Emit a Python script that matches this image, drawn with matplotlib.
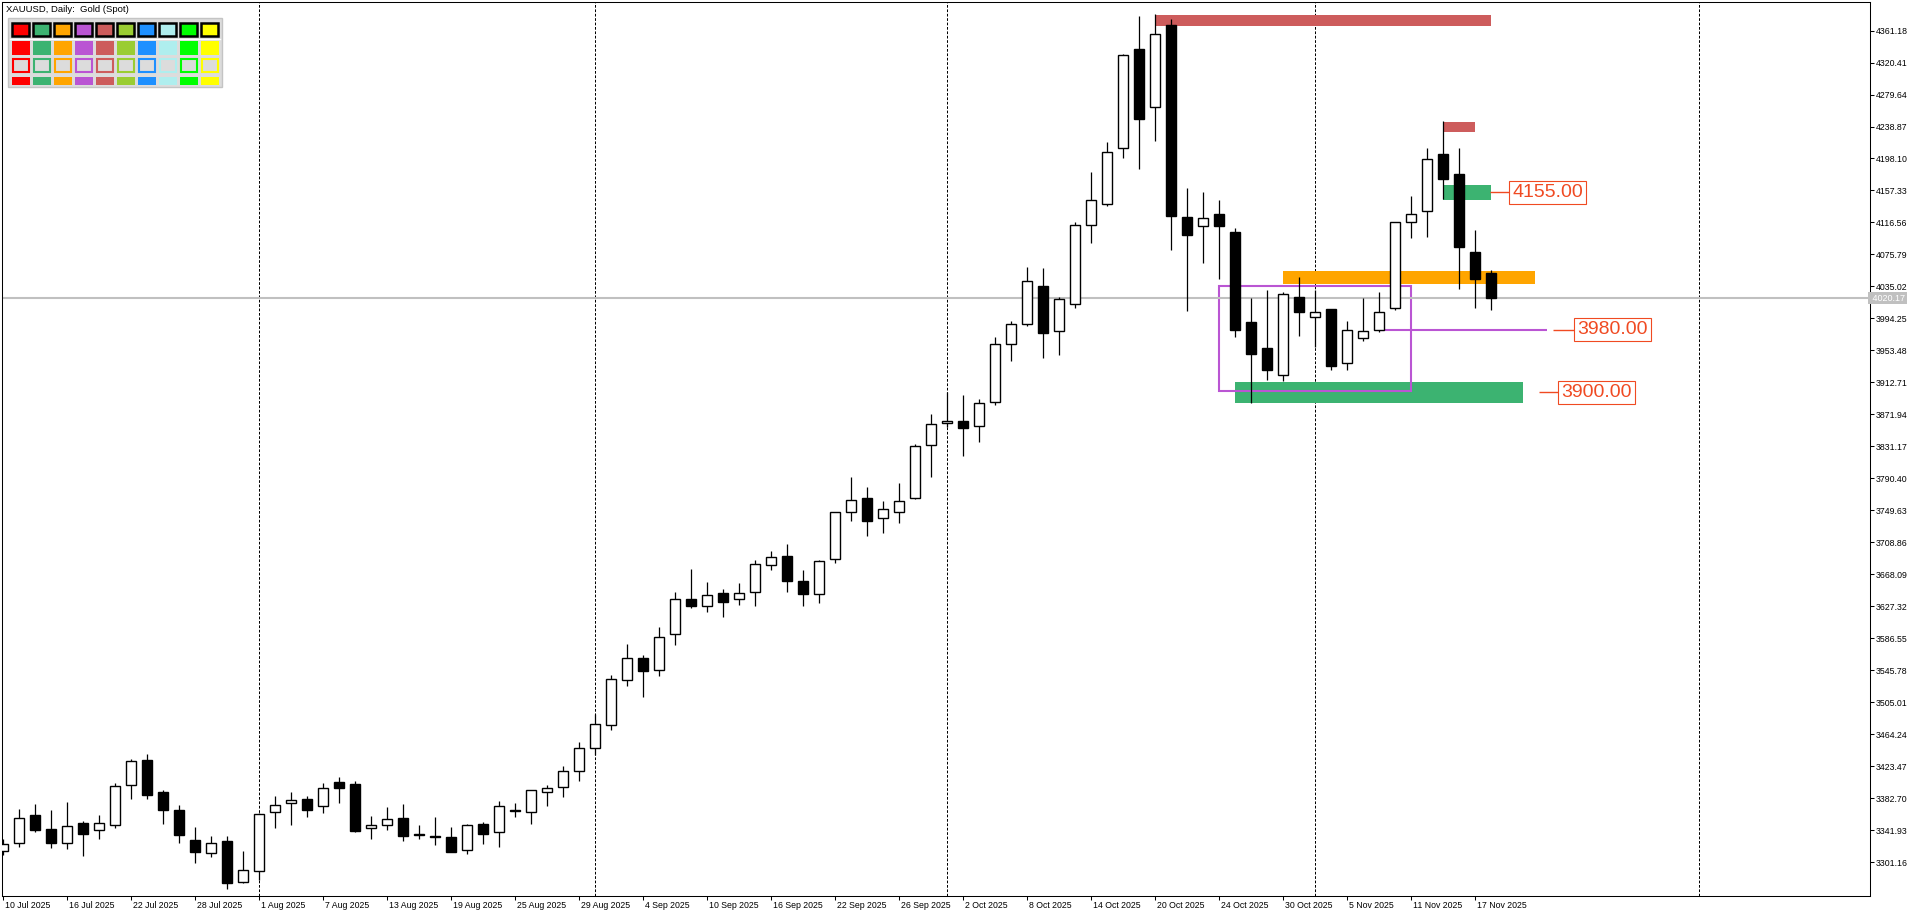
# -*- coding: utf-8 -*-
import numpy as np
import matplotlib
matplotlib.use('Agg')
import matplotlib.pyplot as plt
from matplotlib.patches import Rectangle
from matplotlib.transforms import ScaledTranslation

plt.rcParams['font.family'] = ['Liberation Sans', 'DejaVu Sans']

# XAUUSD daily bars, 10 Jul 2025 .. 18 Nov 2025 (one value per trading day)
opens = [3315, 3325, 3361, 3343, 3326, 3351, 3342, 3348, 3399, 3431,
         3390, 3368, 3329, 3313, 3328, 3276, 3290, 3365, 3376, 3381,
         3372, 3403, 3401, 3344, 3349, 3357, 3336.5, 3334, 3333, 3316,
         3350, 3340, 3368, 3365, 3390, 3397, 3417, 3446, 3476, 3533,
         3561, 3546, 3592, 3636, 3627, 3644, 3636, 3645, 3680, 3691,
         3659, 3643, 3688, 3747, 3765, 3740, 3747, 3765, 3833, 3861,
         3864, 3857, 3888, 3961, 3987, 4036, 3978, 4012, 4113, 4140,
         4212, 4338, 4264, 4368, 4123, 4112, 4127, 4105, 3990, 3956,
         3922, 4021, 3996, 4006, 3938, 3969, 3979, 4007, 4117, 4131,
         4204, 4178, 4079, 4052]
highs = [3330, 3369, 3375, 3367, 3378, 3353, 3361, 3402, 3433, 3439,
         3393, 3374, 3346, 3334, 3334, 3315, 3364, 3385, 3390, 3385,
         3402, 3410, 3404, 3360, 3371, 3375, 3348, 3359, 3346, 3350,
         3352, 3379, 3376, 3393, 3399, 3423, 3454, 3490, 3540, 3579,
         3565, 3601, 3646, 3675, 3658, 3649, 3657, 3686, 3698, 3707,
         3673, 3686, 3748, 3792, 3779, 3761, 3784, 3834, 3872, 3900,
         3897, 3892, 3970, 3991, 4060, 4058, 4022, 4117, 4181, 4219,
         4331, 4380, 4382, 4376, 4161, 4155, 4145, 4109, 4020, 4031,
         4028, 4047, 4031, 4006, 3991, 4020, 4028, 4117, 4150, 4212,
         4246, 4212, 4107, 4056]
lows = [3310, 3321, 3340, 3319, 3318, 3309, 3331, 3344, 3382, 3381,
        3350, 3325, 3300, 3307, 3267, 3275, 3278, 3344, 3349, 3358,
        3364, 3376, 3340, 3330, 3342, 3328, 3331, 3323, 3314, 3311,
        3324, 3321, 3359, 3350, 3373, 3384, 3404, 3438, 3470, 3526,
        3511, 3539, 3578, 3625, 3620, 3613, 3629, 3627, 3674, 3646,
        3628, 3632, 3683, 3736, 3717, 3721, 3734, 3764, 3792, 3856,
        3819, 3837, 3884, 3940, 3985, 3944, 3947, 4008, 4091, 4138,
        4199, 4185, 4220, 4081, 4004, 4065, 4044, 3971, 3886, 3916,
        3915, 3972, 3958, 3929, 3929, 3965, 3977, 4005, 4097, 4098,
        4146, 4032, 4007, 4005]
closes = [3324, 3357, 3342, 3325, 3347, 3337, 3351, 3398, 3430, 3387,
          3367, 3336, 3314, 3325, 3275, 3291, 3363, 3374, 3380, 3368,
          3395, 3396, 3341, 3348, 3356, 3334, 3335.5, 3333, 3314, 3348,
          3337, 3372, 3366, 3393, 3396, 3417, 3447, 3477, 3534, 3561,
          3545, 3588, 3637, 3627, 3641, 3633, 3644, 3681, 3690, 3659,
          3643, 3685, 3747, 3763, 3736, 3751, 3761, 3832, 3859, 3864,
          3855, 3887, 3961, 3987, 4042, 3976, 4019, 4113, 4145, 4207,
          4330, 4248, 4357, 4125, 4100, 4122, 4112, 3980, 3949, 3929,
          4025, 4003, 4002, 3933, 3979, 3978, 4002, 4117, 4127, 4197,
          4172, 4085, 4045, 4020.17]

x_labels = ['10 Jul 2025', '16 Jul 2025', '22 Jul 2025', '28 Jul 2025',
            '1 Aug 2025', '7 Aug 2025', '13 Aug 2025', '19 Aug 2025',
            '25 Aug 2025', '29 Aug 2025', '4 Sep 2025', '10 Sep 2025',
            '16 Sep 2025', '22 Sep 2025', '26 Sep 2025', '2 Oct 2025',
            '8 Oct 2025', '14 Oct 2025', '20 Oct 2025', '24 Oct 2025',
            '30 Oct 2025', '5 Nov 2025', '11 Nov 2025', '17 Nov 2025']
y_labels = ['4361.18', '4320.41', '4279.64', '4238.87', '4198.10', '4157.33',
            '4116.56', '4075.79', '4035.02', '3994.25', '3953.48', '3912.71',
            '3871.94', '3831.17', '3790.40', '3749.63', '3708.86', '3668.09',
            '3627.32', '3586.55', '3545.78', '3505.01', '3464.24', '3423.47',
            '3382.70', '3341.93', '3301.16']
month_starts = [16, 37, 59, 82, 106]
last_price = 4020.17

# supply / demand zones
zone_start = [72, 90, 90, 80, 77]
zone_end = [93, 92, 93, 95.75, 95]
zone_top = [4381, 4245, 4164, 4055, 3913]
zone_bottom = [4367.5, 4232, 4145, 4038.5, 3887]
zone_color = ['#CD5C5C', '#CD5C5C', '#3CB371', '#FFA500', '#3CB371']

# range box and its mid line
box_x = [76, 88]
box_price = [3902, 4036]
mid_x = [86, 96.5]
mid_price = 3980

# level labels
level_price = [4155.00, 3980.00, 3900.00]
level_x0 = [92.94, 96.88, 96.01]
level_x1 = [94.32, 98.38, 97.38]

palette = ['#FF0000', '#3CB371', '#FFA500', '#BA55D3', '#CD5C5C',
           '#9ACD32', '#1E90FF', '#AFEEEE', '#00FF00', '#FFFF00']

W, H = 1920, 915
fig = plt.figure(figsize=(W / 100, H / 100), dpi=100)
ax = fig.add_axes([2 / W, (H - 896) / H, 1868 / W, 894 / H])
ax.set_xlim(-0.056, 116.69)
ax.set_ylim(3257.9, 4397.6)
for s in ax.spines.values():
    s.set_linewidth(0.75)
    s.set_color('black')

o = np.array(opens, dtype=float)
h = np.array(highs, dtype=float)
l = np.array(lows, dtype=float)
c = np.array(closes, dtype=float)
x = np.arange(len(o))

# month separators
for m in month_starts:
    ax.axvline(m, color='black', lw=0.72, linestyle=(0, (2.7, 1.7)), zorder=0.5)

# zones
for x0, x1, top, bot, col in zip(zone_start, zone_end, zone_top, zone_bottom, zone_color):
    ax.add_patch(Rectangle((x0, bot), x1 - x0, top - bot, fc=col, ec='none', zorder=1))

ax.add_patch(Rectangle((box_x[0], box_price[0]), box_x[1] - box_x[0],
                       box_price[1] - box_price[0], fc='none', ec='#BA55D3',
                       lw=1.5, zorder=1.2))
ax.hlines(mid_price, mid_x[0], mid_x[1], color='#BA55D3', lw=1.5, zorder=1.2)

# bid line
ax.axhline(last_price, color='#C0C0C0', lw=1.5, zorder=1.3)

# candles
ax.vlines(x, l, h, color='black', lw=0.9, zorder=2)
up = c >= o
ax.bar(x, np.abs(c - o), bottom=np.minimum(o, c), width=0.61,
       color=np.where(up, 'white', 'black'), edgecolor='black',
       linewidth=1.0, zorder=3)

# level labels
for p, x0, x1 in zip(level_price, level_x0, level_x1):
    ax.hlines(p, x0, x1, color='#F04A22', lw=1.0, zorder=4)
    ax.text(x1, p, '%.2f' % p, color='#F04A22', fontsize=14,
            ha='left', va='center', zorder=5,
            bbox=dict(boxstyle='square,pad=0.16', fc='white', ec='#F04A22', lw=0.8))

# y axis on the right
ax.yaxis.tick_right()
ax.set_yticks([float(v) for v in y_labels])
ax.set_yticklabels(y_labels)
ax.tick_params(axis='y', direction='out', length=3, width=0.75, pad=1, labelsize=6.3)
ax.text(1.0, last_price, ' 4020.17', transform=ax.get_yaxis_transform(),
        ha='left', va='center', color='white', fontsize=6.5, zorder=6,
        bbox=dict(boxstyle='square,pad=0.2', fc='#C0C0C0', ec='none'))

# x axis
ax.set_xticks(np.arange(len(x_labels)) * 4)
ax.set_xticklabels(x_labels)
ax.tick_params(axis='x', direction='out', length=3, width=0.75, pad=0.5, labelsize=6.3)
for lab in ax.get_xticklabels():
    lab.set_ha('left')
    lab.set_transform(lab.get_transform() + ScaledTranslation(2 / 100, 0, fig.dpi_scale_trans))

# title and colour palette panel (pixel overlay)
fig.text(6 / W, 1 - 10 / H, 'XAUUSD, Daily:  Gold (Spot)', fontsize=6.8,
         ha='left', va='center')
ov = fig.add_axes([0, 0, 1, 1])
ov.set_xlim(0, W)
ov.set_ylim(H, 0)
ov.axis('off')
ov.add_patch(Rectangle((8, 18), 214, 69, fc='#DCDCDC', ec='#C4C4C4', lw=1))
ov.plot([10, 220], [38.5, 38.5], color='white', lw=1)
for k, col in enumerate(palette):
    x0 = 11.5 + 21 * k
    ov.add_patch(Rectangle((x0 + 0.5, 22.5), 17, 13.5, fc=col, ec='black', lw=1.8))
    ov.add_patch(Rectangle((x0, 40.5), 18, 14.5, fc=col, ec='none'))
    ov.add_patch(Rectangle((x0 + 1, 59), 16, 12.5, fc='#DCDCDC', ec=col, lw=1.5))
    ov.add_patch(Rectangle((x0, 77), 18, 8, fc=col, ec='none'))

fig.savefig('out.png', dpi=100)
